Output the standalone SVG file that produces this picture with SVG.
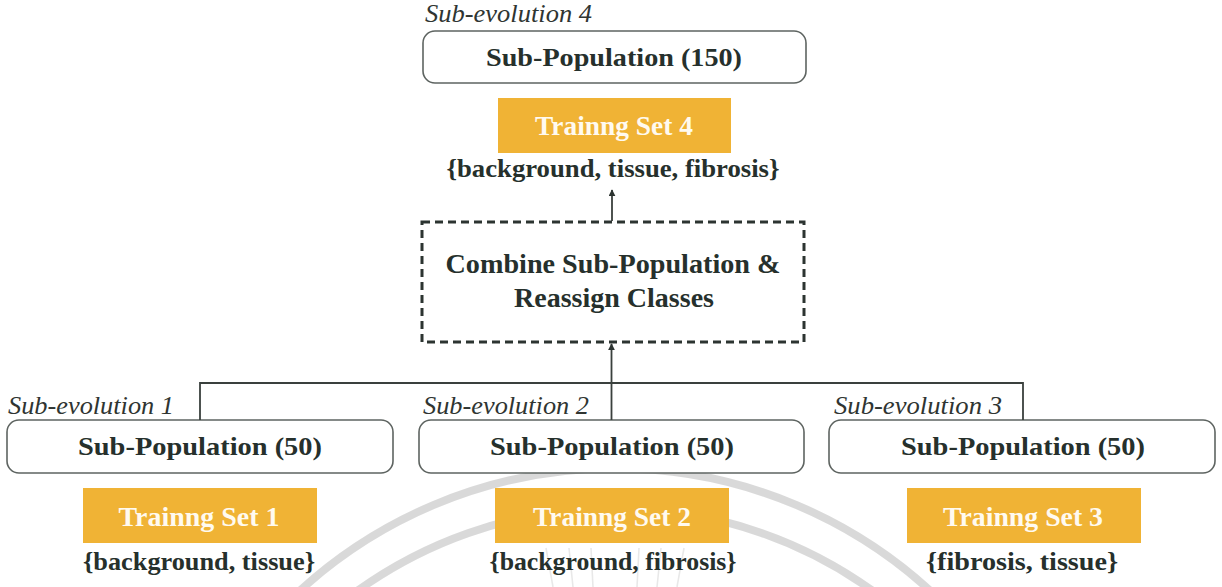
<svg xmlns="http://www.w3.org/2000/svg" width="1222" height="587" viewBox="0 0 1222 587">
  <style>
    .bg { fill: #ffffff; }
    .pop { fill: #ffffff; stroke: #5e6461; stroke-width: 1.6; }
    .set { fill: #f0b335; }
    .comb { fill: none; stroke: #2c3431; stroke-width: 3; stroke-dasharray: 8 5; }
    text { font-family: 'Liberation Serif', 'Times New Roman', Times, serif; }
    .t { fill: #26302c; text-anchor: middle; font-weight: 700; }
    .lbl { font-style: italic; fill: #2f3532; font-size: 26px; }
    .w { fill: #fffaf0; }
    .wire { fill: none; stroke: #3a403d; stroke-width: 1.8; }
    .seal { fill: none; stroke: #000000; stroke-opacity: 0.15; stroke-width: 8; }
    .ray { stroke: #000000; stroke-opacity: 0.09; stroke-width: 1.6; }
  </style>
  <defs>
    <marker id="arrow" viewBox="0 0 10 10" refX="9" refY="5" markerWidth="7" markerHeight="7" markerUnits="userSpaceOnUse" orient="auto">
      <path d="M0,0 L10,5 L0,10 z" fill="#2c3431"/>
    </marker>
  </defs>

  <rect class="bg" x="0" y="0" width="1222" height="587"/>

  <!-- faint seal behind the lower row -->
  <g id="seal">
    <path class="seal" d="M 290,600 A 467,467 0 0 1 940,600"/>
    <path class="seal" d="M 345,600 A 442,442 0 0 1 885,600"/>
    <line class="ray" x1="553" y1="587" x2="546" y2="548"/>
    <line class="ray" x1="573" y1="587" x2="569" y2="548"/>
    <line class="ray" x1="593" y1="587" x2="591" y2="548"/>
    <line class="ray" x1="637" y1="587" x2="639" y2="548"/>
    <line class="ray" x1="657" y1="587" x2="661" y2="548"/>
    <line class="ray" x1="677" y1="587" x2="684" y2="548"/>
  </g>

  <!-- top: merged sub-evolution -->
  <g id="sub-evolution-4">
    <text class="lbl" x="425" y="22" textLength="167" lengthAdjust="spacingAndGlyphs">Sub-evolution 4</text>
    <rect class="pop" x="423" y="31" width="383" height="52" rx="12"/>
    <text class="t" x="614" y="66" font-size="26" textLength="256" lengthAdjust="spacingAndGlyphs">Sub-Population (150)</text>
  </g>
  <g id="training-set-4">
    <rect class="set" x="498" y="98" width="233" height="55"/>
    <text class="t w" x="614" y="135" font-size="28" textLength="158" lengthAdjust="spacingAndGlyphs">Trainng Set 4</text>
    <text class="t" x="613" y="177" font-size="25" textLength="333" lengthAdjust="spacingAndGlyphs">{background, tissue, fibrosis}</text>
  </g>

  <!-- combine step -->
  <g id="combine">
    <rect class="comb" x="422" y="222" width="382" height="120"/>
    <text class="t" x="613" y="273" font-size="27" textLength="335" lengthAdjust="spacingAndGlyphs">Combine Sub-Population &amp;</text>
    <text class="t" x="614" y="307" font-size="27" textLength="200" lengthAdjust="spacingAndGlyphs">Reassign Classes</text>
  </g>

  <!-- sub-evolutions 1..3 -->
  <g id="sub-evolution-1">
    <text class="lbl" x="8" y="414" textLength="166" lengthAdjust="spacingAndGlyphs">Sub-evolution 1</text>
    <rect class="pop" x="7" y="420" width="386" height="53" rx="12"/>
    <text class="t" x="200" y="455" font-size="26" textLength="244" lengthAdjust="spacingAndGlyphs">Sub-Population (50)</text>
  </g>
  <g id="training-set-1">
    <rect class="set" x="83" y="488" width="234" height="55"/>
    <text class="t w" x="199" y="526" font-size="28" textLength="161" lengthAdjust="spacingAndGlyphs">Trainng Set 1</text>
    <text class="t" x="199" y="570" font-size="25" textLength="232" lengthAdjust="spacingAndGlyphs">{background, tissue}</text>
  </g>

  <g id="sub-evolution-2">
    <text class="lbl" x="423" y="414" textLength="166" lengthAdjust="spacingAndGlyphs">Sub-evolution 2</text>
    <rect class="pop" x="419" y="420" width="385" height="53" rx="12"/>
    <text class="t" x="612" y="455" font-size="26" textLength="244" lengthAdjust="spacingAndGlyphs">Sub-Population (50)</text>
  </g>
  <g id="training-set-2">
    <rect class="set" x="495" y="488" width="234" height="55"/>
    <text class="t w" x="612" y="526" font-size="28" textLength="158" lengthAdjust="spacingAndGlyphs">Trainng Set 2</text>
    <text class="t" x="613" y="570" font-size="25" textLength="247" lengthAdjust="spacingAndGlyphs">{background, fibrosis}</text>
  </g>

  <g id="sub-evolution-3">
    <text class="lbl" x="834" y="414" textLength="168" lengthAdjust="spacingAndGlyphs">Sub-evolution 3</text>
    <rect class="pop" x="829" y="420" width="386" height="53" rx="12"/>
    <text class="t" x="1023" y="455" font-size="26" textLength="244" lengthAdjust="spacingAndGlyphs">Sub-Population (50)</text>
  </g>
  <g id="training-set-3">
    <rect class="set" x="907" y="488" width="234" height="55"/>
    <text class="t w" x="1023" y="526" font-size="28" textLength="160" lengthAdjust="spacingAndGlyphs">Trainng Set 3</text>
    <text class="t" x="1022" y="570" font-size="25" textLength="192" lengthAdjust="spacingAndGlyphs">{fibrosis, tissue}</text>
  </g>

  <!-- connectors -->
  <g id="connectors">
    <path class="wire" d="M200,420 V383 H1023 V420"/>
    <path class="wire" d="M611.5,420 V383"/>
    <path class="wire" d="M611.5,383 V344" marker-end="url(#arrow)"/>
    <path class="wire" d="M612,221 V190" marker-end="url(#arrow)"/>
  </g>
</svg>
